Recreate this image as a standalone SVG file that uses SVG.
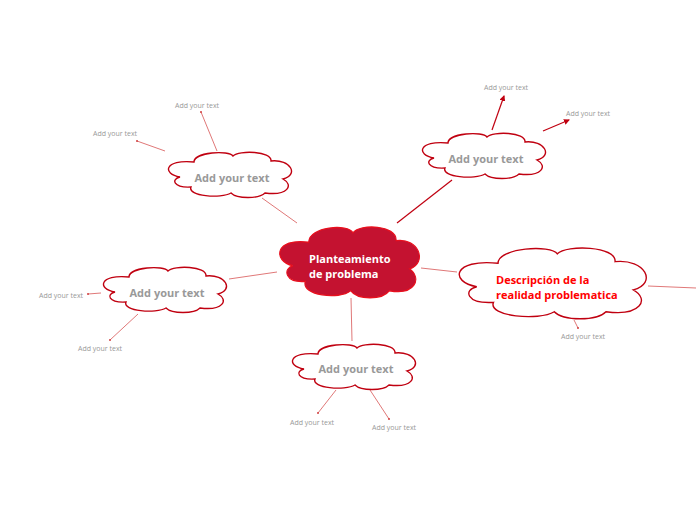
<svg xmlns="http://www.w3.org/2000/svg" width="696" height="520" viewBox="0 0 696 520">
<style>
.cl{fill:#fff;stroke:#c00010;stroke-width:1.4;}
.cc{fill:#c41230;stroke:#e8101e;stroke-width:1.4;}
.lbl{font-family:"Open Sans","Noto Sans",sans-serif;font-weight:bold;font-size:11px;fill:#999;text-anchor:middle;}
.sm{font-family:"Open Sans","Noto Sans",sans-serif;font-size:7px;fill:#999;text-anchor:middle;}
.ln{stroke:#e07878;stroke-width:1;fill:none;}
.dk{stroke:#c00010;stroke-width:1.2;fill:none;}
.dot{fill:#d04040;}
</style>
<defs>
<path id="cloud" d="M27 11C27 1 62 -1 66 5C72 -1 105 0 104 10C124 8 132 24 116 28C127 34 121 45 98 42C92 48 70 48 64 42C54 48 20 45 24 36C6 37 4 28 13 26C-5 23 -3 8 27 11Z"/>
<marker id="ar" markerWidth="6" markerHeight="6" refX="5" refY="3" orient="auto" markerUnits="userSpaceOnUse"><path d="M0 0L6 3L0 6Z" fill="#c00010"/></marker>
</defs>
<g id="connectors">
<line class="ln" x1="297" y1="223" x2="262" y2="198"/>
<line class="dk" x1="397" y1="223" x2="452" y2="180"/>
<line class="ln" x1="277" y1="272" x2="229" y2="279"/>
<line class="ln" x1="351" y1="298" x2="352" y2="341"/>
<line class="ln" x1="421" y1="268" x2="457" y2="272"/>
<line class="ln" x1="648" y1="286" x2="696" y2="288"/>
<line class="ln" x1="574" y1="320" x2="578" y2="328"/>
<line class="ln" x1="217" y1="151" x2="201" y2="112"/>
<line class="ln" x1="165" y1="151" x2="137" y2="141"/>
<line class="dk" x1="492" y1="130" x2="504" y2="96" marker-end="url(#ar)"/>
<line class="dk" x1="543" y1="131" x2="569" y2="120" marker-end="url(#ar)"/>
<line class="ln" x1="101" y1="293" x2="88" y2="294"/>
<line class="ln" x1="138" y1="314" x2="110" y2="340"/>
<line class="ln" x1="336" y1="390" x2="318" y2="413"/>
<line class="ln" x1="370" y1="390" x2="389" y2="419"/>
<circle class="dot" cx="578" cy="328" r="1"/>
<circle class="dot" cx="201" cy="112" r="1"/>
<circle class="dot" cx="137" cy="141" r="1"/>
<circle class="dot" cx="88" cy="294" r="1"/>
<circle class="dot" cx="110" cy="340" r="1"/>
<circle class="dot" cx="318" cy="413" r="1"/>
<circle class="dot" cx="389" cy="419" r="1"/>
</g>
<g id="center">
<use href="#cloud" class="cc" transform="translate(278,225) scale(1.136,1.565)" style="stroke-width:0.9"/>
<text x="309" y="263" font-family="'Open Sans','Noto Sans',sans-serif" font-weight="bold" font-size="11" fill="#fff">Planteamiento</text>
<text x="309" y="278" font-family="'Open Sans','Noto Sans',sans-serif" font-weight="bold" font-size="11" fill="#fff">de problema</text>
</g>
<g id="right">
<use href="#cloud" class="cl" transform="translate(457,246) scale(1.52,1.565)" style="stroke-width:0.9"/>
<text x="496" y="284" font-family="'Open Sans','Noto Sans',sans-serif" font-weight="bold" font-size="11" fill="#f00">Descripción de la</text>
<text x="496" y="299" font-family="'Open Sans','Noto Sans',sans-serif" font-weight="bold" font-size="11" fill="#f00">realidad problematica</text>
<text class="sm" x="583" y="339">Add your text</text>
</g>
<g id="topleft">
<use href="#cloud" class="cl" transform="translate(167,151)"/>
<text class="lbl" x="232" y="182">Add your text</text>
<text class="sm" x="197" y="108">Add your text</text>
<text class="sm" x="115" y="136">Add your text</text>
</g>
<g id="topright">
<use href="#cloud" class="cl" transform="translate(421,132)"/>
<text class="lbl" x="486" y="163">Add your text</text>
<text class="sm" x="506" y="90">Add your text</text>
<text class="sm" x="588" y="116">Add your text</text>
</g>
<g id="left">
<use href="#cloud" class="cl" transform="translate(102,266)"/>
<text class="lbl" x="167" y="297">Add your text</text>
<text class="sm" x="61" y="298">Add your text</text>
<text class="sm" x="100" y="351">Add your text</text>
</g>
<g id="bottom">
<use href="#cloud" class="cl" transform="translate(291,343)"/>
<text class="lbl" x="356" y="373">Add your text</text>
<text class="sm" x="312" y="425">Add your text</text>
<text class="sm" x="394" y="430">Add your text</text>
</g>
</svg>
